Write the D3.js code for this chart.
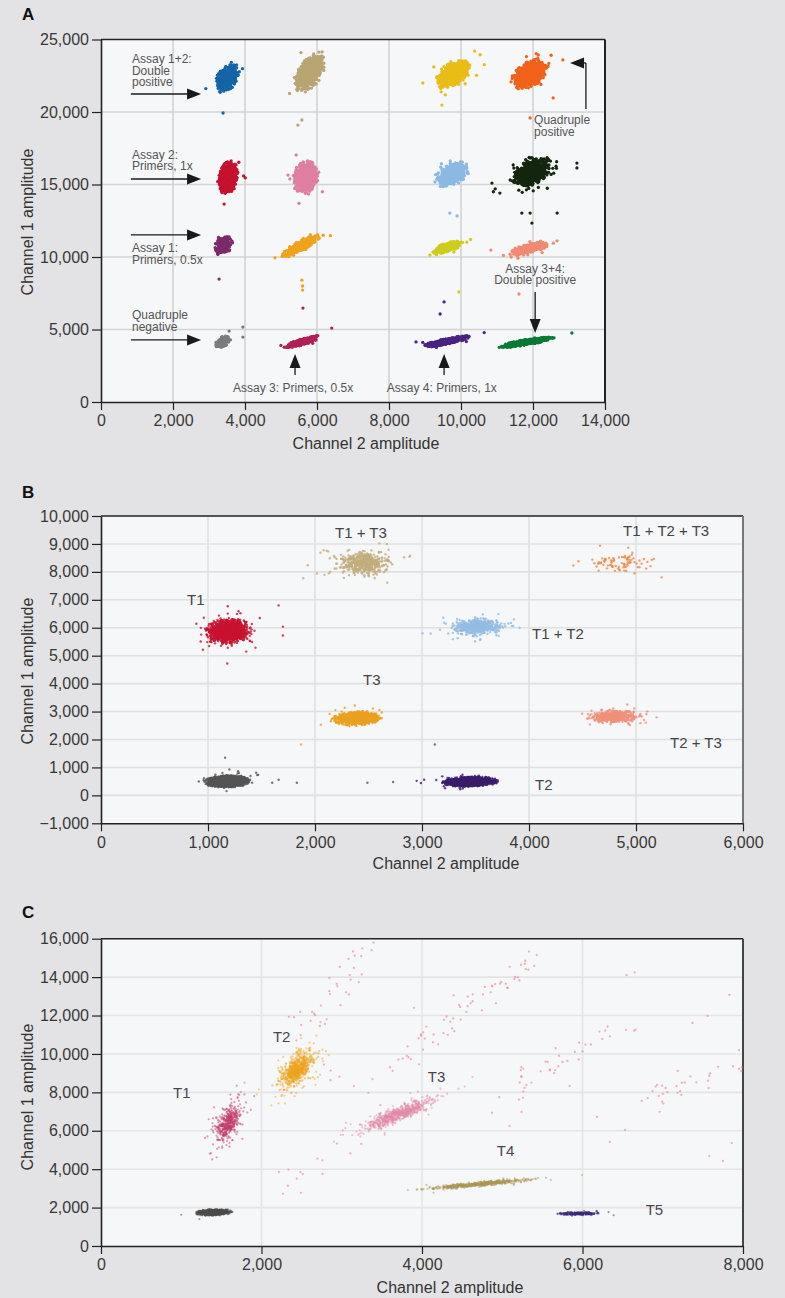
<!DOCTYPE html>
<html>
<head>
<meta charset="utf-8">
<script src="https://cdn.jsdelivr.net/npm/d3@7"></script>
<style>
  html, body { margin: 0; padding: 0; background: #e3e3e5; }
  svg { display: block; font-family: "Liberation Sans", Arial, Helvetica, sans-serif; }
</style>
</head>
<body>
<svg id="chart" width="785" height="1298"></svg>
<script>
// ---------------- Panel A: four-plex, two channels ----------------
// Cluster summaries: centre (channel 2, channel 1), spread, tilt, droplet count
const aClusters = ["1+2", "1+2+3", "1+2+4", "1+2+3+4", "2", "2+3", "2+4", "2+3+4",
                   "1", "1+3", "1+4", "1+3+4", "none", "3", "4", "3+4"];
const aCh2   = [3500, 5800, 9800, 11920, 3530, 5690, 9750, 11950, 3400, 5550, 9600, 11900, 3380, 5600, 9600, 11820];
const aCh1   = [22350, 22750, 22650, 22620, 15480, 15520, 15700, 15800, 10800, 10750, 10650, 10600, 4150, 4150, 4170, 4130];
const aSd2   = [125, 160, 190, 200, 105, 135, 170, 190, 95, 210, 160, 210, 85, 190, 250, 290];
const aSd1   = [400, 520, 400, 400, 430, 430, 340, 360, 250, 310, 180, 190, 170, 160, 150, 140];
const aRho   = [0.4, 0.5, 0.5, 0.5, 0.2, 0.2, 0.4, 0.4, 0.3, 0.85, 0.7, 0.7, 0.5, 0.85, 0.85, 0.85];
const aCount = [450, 800, 700, 800, 900, 900, 700, 1200, 250, 400, 400, 450, 250, 450, 500, 650];
const aHalo  = [0.02, 0.03, 0.05, 0.05, 0.02, 0.02, 0.05, 0.08, 0.03, 0.03, 0.03, 0.04, 0.02, 0.02, 0.03, 0.02];
// Isolated droplets between clusters: [channel 2, channel 1, cluster index]
const aStray = [[3390,19930,0],[5470,19100,1],[5580,19450,1],[3420,13650,4],[5500,13700,5],[3280,8480,8],
  [5580,8400,9],[5600,8000,9],[5600,7720,9],[5610,6480,13],[3940,5170,12],[3940,4480,12],[6410,5100,13],
  [9690,13030,6],[9890,12830,6],[11690,13030,7],[11920,13030,7],[11970,12340,7],[12670,13030,7],
  [13220,16480,7],[13220,16140,7],[10860,15100,7],[10950,14700,7],[11080,14410,7],[10900,14500,7],
  [10830,10480,11],[11610,7450,11],[9940,7590,10],[9530,6900,14],[9420,6070,14],[8750,4140,14],
  [13080,4760,15],[11920,19590,3],[12560,20970,3],[12830,23590,3],[8940,22000,2],[9470,20480,2]];
const aXTicks = [0, 2000, 4000, 6000, 8000, 10000, 12000, 14000];
const aYTicks = [0, 5000, 10000, 15000, 20000, 25000];

// ---------------- Panel B: triplex ----------------
const bClusters = ["none", "T1", "T1 + T3", "T3", "T1 + T2", "T2", "T1 + T2 + T3", "T2 + T3"];
const bCh2   = [1180, 1180, 2450, 2390, 3510, 3450, 4850, 4790];
const bCh1   = [500, 5870, 8300, 2750, 6040, 490, 8380, 2820];
const bSd2   = [80, 85, 105, 85, 105, 100, 150, 100];
const bSd1   = [85, 180, 180, 100, 130, 70, 180, 105];
const bRho   = [0.1, 0.1, 0.1, 0.15, 0.1, 0.1, 0.1, 0.1];
const bCount = [2500, 1500, 500, 1500, 500, 1800, 85, 500];
const bHalo  = [0.01, 0.05, 0.12, 0.03, 0.12, 0.03, 0.15, 0.08];
const bStray = [[1180,4720,1],[1160,1350,0],[1200,930,0],[1450,810,0],[1600,450,0],[1660,560,0],[1830,450,0],
  [2490,450,0],[2730,480,0],[1870,1820,3],[1890,7770,2],[3120,1820,0],[1660,6800,1],[1700,6040,1],[1700,5720,1],
  [2950,520,5],[2990,440,5],[3020,560,5]];
const bXTicks = [0, 1000, 2000, 3000, 4000, 5000, 6000];
const bYTicks = [-1000, 0, 1000, 2000, 3000, 4000, 5000, 6000, 7000, 8000, 9000, 10000];

// ---------------- Panel C: five-plex ----------------
const cClusters = ["none", "T1", "T2", "T3", "T4", "T5"];
const cCh2   = [1400, 1590, 2440, 3700, 4700, 5960];
const cCh1   = [1750, 6460, 9170, 6850, 3220, 1690];
const cSd2   = [90, 70, 95, 210, 290, 105];
const cSd1   = [70, 450, 420, 390, 125, 33];
const cRho   = [0.2, 0.55, 0.6, 0.88, 0.9, 0.1];
const cCount = [1400, 450, 750, 650, 550, 260];
const cHalo  = [0.005, 0.18, 0.2, 0.1, 0.05, 0.1];
// Rain between clusters: segments [from ch2, from ch1, to ch2, to ch1, droplets]
const cRain = [[2450,11000,3370,15500,36],[3650,9500,5450,15050,62],[4800,7600,6700,11700,40],
  [6850,7700,7800,9400,30],[2100,3000,3200,5600,14],[2600,9600,3500,7400,12]];
const cStray = [[6180,6720],[6340,5420],[6530,6040],[7580,4690],[7750,4430],[7860,5360],[6550,14100],
  [6650,14250],[7830,13070],[7560,11980],[7370,11610],[7950,10200],[7980,9100],[1790,8500],[5840,8330],
  [5090,6250],[5240,6980],[3900,12400],[4200,10500]];
const cXTicks = [0, 2000, 4000, 6000, 8000];
const cYTicks = [0, 2000, 4000, 6000, 8000, 10000, 12000, 14000, 16000];

// ---------------- palettes ----------------
const aColors = ["#1565a6","#b9a574","#e9bd17","#f0621a","#c4122f","#df7fa0","#8bb9e3","#14260f",
                 "#7d2a6c","#f0a21e","#cfcc1c","#f08a72","#7b7b7b","#b02058","#4b2382","#0a7a36"];
const bColors = ["#555555","#c8132f","#c2ad7c","#eaa11f","#93bce4","#3b1d6b","#f08a44","#f0907a"];
const cColors = ["#4e4e4e","#c43c6c","#f0a620","#e38aa8","#ad9856","#3c2c7c"];
const cRainColor = "#ec7f8a";

// Seeded generator so the droplet clouds are the same on every load
function mulberry32(a) {
  return function() {
    a |= 0; a = a + 0x6D2B79F5 | 0;
    let t = Math.imul(a ^ a >>> 15, 1 | a);
    t = t + Math.imul(t ^ t >>> 7, 61 | t) ^ t;
    return ((t ^ t >>> 14) >>> 0) / 4294967296;
  };
}
function normal(rng) {
  let u = 0; while (u === 0) u = rng();
  return Math.sqrt(-2 * Math.log(u)) * Math.cos(2 * Math.PI * rng());
}
function cloud(rng, cx, cy, sx, sy, rho, n, halo, haloScale, idx) {
  const pts = [];
  const q = Math.sqrt(1 - rho * rho);
  for (let i = 0; i < n; i++) {
    let z1, z2;
    // keep the core an oval: redraw droplets that land beyond 2.7 sd
    do { z1 = normal(rng); z2 = normal(rng); } while (z1 * z1 + z2 * z2 > 7.3);
    const k = rng() < halo ? haloScale : 1;
    pts.push([cx + k * sx * z1, cy + k * sy * (rho * z1 + q * z2), idx]);
  }
  return pts;
}

const svg = d3.select("#chart");
const fmt = d3.format(",");
const FONT = '"Liberation Sans", Arial, Helvetica, sans-serif';

function panel(cfg) {
  const g = svg.append("g");
  const x = d3.scaleLinear().domain(cfg.xDomain).range([cfg.left, cfg.right]);
  const y = d3.scaleLinear().domain(cfg.yDomain).range([cfg.bottom, cfg.top]);

  g.append("rect")
    .attr("x", cfg.left).attr("y", cfg.top)
    .attr("width", cfg.right - cfg.left).attr("height", cfg.bottom - cfg.top)
    .attr("fill", "#f6f7f8");

  // grid
  const grid = g.append("g").attr("stroke", cfg.gridColor).attr("stroke-width", cfg.gridWidth);
  grid.selectAll("line.v").data(cfg.xTicks.filter(d => d > cfg.xDomain[0] && d < cfg.xDomain[1]))
    .join("line").attr("class", "v")
    .attr("x1", d => x(d)).attr("x2", d => x(d)).attr("y1", cfg.top).attr("y2", cfg.bottom);
  grid.selectAll("line.h").data(cfg.yTicks.filter(d => d > cfg.yDomain[0] && d < cfg.yDomain[1]))
    .join("line").attr("class", "h")
    .attr("y1", d => y(d)).attr("y2", d => y(d)).attr("x1", cfg.left).attr("x2", cfg.right);

  // frame (top and right)
  g.append("line").attr("x1", cfg.left).attr("x2", cfg.right).attr("y1", cfg.top).attr("y2", cfg.top)
    .attr("stroke", "#222").attr("stroke-width", 1.5);
  g.append("line").attr("x1", cfg.right).attr("x2", cfg.right).attr("y1", cfg.top).attr("y2", cfg.bottom)
    .attr("stroke", cfg.rightColor).attr("stroke-width", 2);

  // droplets
  const clipId = "clip" + cfg.label;
  g.append("clipPath").attr("id", clipId).append("rect")
    .attr("x", cfg.left).attr("y", cfg.top)
    .attr("width", cfg.right - cfg.left).attr("height", cfg.bottom - cfg.top);
  const dots = g.append("g").attr("clip-path", `url(#${clipId})`);
  cfg.layers.forEach(layer => {
    dots.append("g").selectAll("circle").data(layer.points).join("circle")
      .attr("cx", d => x(d[0])).attr("cy", d => y(d[1]))
      .attr("r", layer.r)
      .attr("fill", d => layer.color(d))
      .attr("fill-opacity", layer.opacity);
  });

  // axes
  const styleAxis = sel => {
    sel.attr("font-family", FONT).attr("font-size", 16);
    sel.select(".domain").attr("stroke", "#222").attr("stroke-width", 1.6);
    sel.selectAll(".tick line").attr("stroke", "#222").attr("stroke-width", 1.2);
    sel.selectAll(".tick text").attr("fill", "#383838");
  };
  g.append("g").attr("transform", `translate(0,${cfg.bottom})`)
    .call(d3.axisBottom(x).tickValues(cfg.xTicks).tickFormat(fmt).tickSize(8).tickPadding(5).tickSizeOuter(0))
    .call(styleAxis);
  g.append("g").attr("transform", `translate(${cfg.left},0)`)
    .call(d3.axisLeft(y).tickValues(cfg.yTicks).tickFormat(fmt).tickSize(9).tickPadding(3).tickSizeOuter(0))
    .call(styleAxis);

  // titles
  g.append("text").attr("x", cfg.xTitleX).attr("y", cfg.xTitleY).attr("text-anchor", "middle")
    .attr("font-size", 16).attr("fill", "#333").text("Channel 2 amplitude");
  g.append("text").attr("transform", `translate(33,${cfg.yTitleY}) rotate(-90)`).attr("text-anchor", "middle")
    .attr("font-size", 16).attr("fill", "#333").text("Channel 1 amplitude");
  g.append("text").attr("x", 22).attr("y", cfg.labelY).attr("font-size", 17).attr("font-weight", "bold")
    .attr("fill", "#111").text(cfg.label);

  return { g, x, y };
}

function arrowHead(g, tipX, tipY, dir) {
  const L = 14, W = 5.5;
  let pts;
  if (dir === "right") pts = [[tipX, tipY], [tipX - L, tipY - W], [tipX - L, tipY + W]];
  if (dir === "left")  pts = [[tipX, tipY], [tipX + L, tipY - W], [tipX + L, tipY + W]];
  if (dir === "up")    pts = [[tipX, tipY], [tipX - W, tipY + L], [tipX + W, tipY + L]];
  if (dir === "down")  pts = [[tipX, tipY], [tipX - W, tipY - L], [tipX + W, tipY - L]];
  g.append("polygon").attr("points", pts.map(p => p.join(",")).join(" ")).attr("fill", "#1a1a1a");
}
function line(g, x1, y1, x2, y2) {
  g.append("line").attr("x1", x1).attr("y1", y1).attr("x2", x2).attr("y2", y2)
    .attr("stroke", "#1a1a1a").attr("stroke-width", 1.3);
}
function multiText(g, x, y, lines, opts) {
  const t = g.append("text").attr("x", x).attr("y", y)
    .attr("font-size", opts.size).attr("fill", opts.color)
    .attr("text-anchor", opts.anchor || "start");
  lines.forEach((s, i) => t.append("tspan").attr("x", x).attr("dy", i === 0 ? 0 : opts.lh).text(s));
}

// ================= Panel A =================
{
  const rng = mulberry32(11);
  let pts = [];
  aClusters.forEach((c, i) => {
    pts = pts.concat(cloud(rng, aCh2[i], aCh1[i], aSd2[i], aSd1[i], aRho[i], aCount[i], aHalo[i], 1.8, i));
  });
  pts = pts.concat(aStray);
  const { g, x, y } = panel({
    label: "A", labelY: 20,
    left: 101, right: 605, top: 39.5, bottom: 402,
    xDomain: [0, 14000], yDomain: [0, 25000],
    xTicks: aXTicks, yTicks: aYTicks,
    gridColor: "#d3d3d3", gridWidth: 1.6, rightColor: "#222",
    xTitleX: 366, xTitleY: 449, yTitleY: 222,
    layers: [{ points: pts, r: 1.65, opacity: 1, color: d => aColors[d[2]] }]
  });

  const note = { size: 12, color: "#555", lh: 11.6 };
  multiText(g, x(860), y(23360), ["Assay 1+2:", "Double", "positive"], note);
  line(g, x(830), y(21240), x(2780) - 10, y(21240)); arrowHead(g, x(2780), y(21240), "right");
  multiText(g, x(860), y(16790), ["Assay 2:", "Primers, 1x"], note);
  line(g, x(830), y(15380), x(2780) - 10, y(15380)); arrowHead(g, x(2780), y(15380), "right");
  line(g, x(830), y(11520), x(2780) - 10, y(11520)); arrowHead(g, x(2780), y(11520), "right");
  multiText(g, x(860), y(10320), ["Assay 1:", "Primers, 0.5x"], note);
  multiText(g, x(860), y(5700), ["Quadruple", "negative"], note);
  line(g, x(830), y(4280), x(2780) - 10, y(4280)); arrowHead(g, x(2780), y(4280), "right");

  line(g, x(5390), y(1860), x(5390), y(3310) + 10); arrowHead(g, x(5390), y(3310), "up");
  multiText(g, x(3670), y(670), ["Assay 3: Primers, 0.5x"], note);
  line(g, x(9530), y(1860), x(9530), y(3310) + 10); arrowHead(g, x(9530), y(3310), "up");
  multiText(g, x(7940), y(670), ["Assay 4: Primers, 1x"], note);

  multiText(g, x(12060), y(8920), ["Assay 3+4:", "Double positive"], Object.assign({ anchor: "middle" }, note));
  line(g, x(12060), y(7590), x(12060), y(4760) - 10); arrowHead(g, x(12060), y(4760), "down");

  multiText(g, x(12030), y(19170), ["Quadruple", "positive"], note);
  line(g, x(13470), y(20210), x(13470), y(23380));
  line(g, x(13470), y(23380), x(13030) + 10, y(23380)); arrowHead(g, x(13030), y(23380), "left");
}

// ================= Panel B =================
{
  const rng = mulberry32(23);
  let pts = [];
  bClusters.forEach((c, i) => {
    pts = pts.concat(cloud(rng, bCh2[i], bCh1[i], bSd2[i], bSd1[i], bRho[i], bCount[i], bHalo[i], 1.9, i));
  });
  pts = pts.concat(bStray);
  const { g, x, y } = panel({
    label: "B", labelY: 498,
    left: 101, right: 743, top: 516, bottom: 823.3,
    xDomain: [0, 6000], yDomain: [-1000, 10000],
    xTicks: bXTicks, yTicks: bYTicks,
    gridColor: "#e0e0e0", gridWidth: 1.6, rightColor: "#777",
    xTitleX: 446, xTitleY: 869, yTitleY: 671,
    layers: [{ points: pts, r: 1.2, opacity: 0.8, color: d => bColors[d[2]] }]
  });
  const lab = { size: 15, color: "#444", lh: 0 };
  const bLabels = [["T1 + T3", 2187, 9212], ["T1", 804, 6814], ["T1 + T2 + T3", 4879, 9284], ["T1 + T2", 4028, 5597],
                   ["T3", 2449, 3950], ["T2 + T3", 5318, 1695], ["T2", 4056, 192]];
  bLabels.forEach(l => multiText(g, x(l[1]), y(l[2]), [l[0]], lab));
}

// ================= Panel C =================
{
  const rng = mulberry32(37);
  let pts = [];
  cClusters.forEach((c, i) => {
    pts = pts.concat(cloud(rng, cCh2[i], cCh1[i], cSd2[i], cSd1[i], cRho[i], cCount[i], cHalo[i], 2.0, i));
  });
  const rain = [];
  cRain.forEach(s => {
    const dx = s[2] - s[0], dy = s[3] - s[1];
    for (let i = 0; i < s[4]; i++) {
      const t = rng();
      rain.push([s[0] + dx * t + normal(rng) * 120, s[1] + dy * t + normal(rng) * 300]);
    }
  });
  cStray.forEach(p => rain.push(p));
  const { g, x, y } = panel({
    label: "C", labelY: 918,
    left: 101, right: 743, top: 938.7, bottom: 1246,
    xDomain: [0, 8000], yDomain: [0, 16000],
    xTicks: cXTicks, yTicks: cYTicks,
    gridColor: "#e4e4e4", gridWidth: 1.6, rightColor: "#444",
    xTitleX: 450, xTitleY: 1293, yTitleY: 1097,
    layers: [
      { points: rain, r: 1.15, opacity: 0.6, color: () => cRainColor },
      { points: pts, r: 1.1, opacity: 0.5, color: d => cColors[d[2]] }
    ]
  });
  const lab = { size: 15, color: "#4a4552", lh: 0 };
  const cLabels = [["T2", 2142, 10620], ["T1", 897, 7706], ["T3", 4072, 8539], ["T4", 4932, 4686], ["T5", 6787, 1614]];
  cLabels.forEach(l => multiText(g, x(l[1]), y(l[2]), [l[0]], lab));
}
</script>
</body>
</html>
